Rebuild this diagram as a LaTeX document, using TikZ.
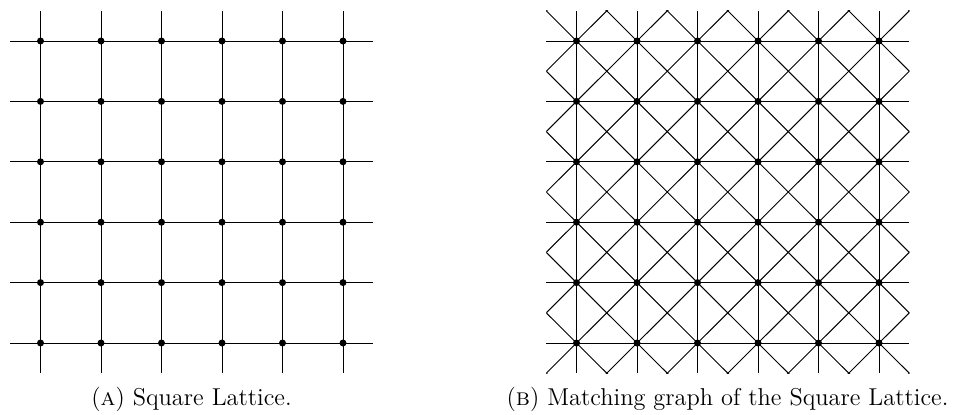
\documentclass[tikz,border=0pt]{standalone}
\tikzset{
  edge/.style={line width=0.5pt, black},
  vtx/.style={circle, fill=black, inner sep=0pt, minimum size=3.5pt},
  captext/.style={anchor=base, inner sep=0pt, font=\fontsize{12.2}{14}\selectfont}
}
\begin{document}
\begin{tikzpicture}[x=0.5pt,y=-0.5pt]
\useasboundingbox (0,0) rectangle (956,414);
% (A) square lattice
\begin{scope}[shift={(40.5,41)}, x=30.25pt, y=-30.2pt]
  \foreach \i in {0,...,5} {
    \coordinate (at\i) at (\i,-0.5);
    \coordinate (ab\i) at (\i,5.5);
    \coordinate (al\i) at (-0.5,\i);
    \coordinate (ar\i) at (5.5,\i);
    \draw[edge] (at\i) -- (ab\i);
    \draw[edge] (al\i) -- (ar\i);
  }
  \foreach \i in {0,...,5}
    \foreach \j in {0,...,5}
      \node[vtx] (a\i\j) at (\i,\j) {};
\end{scope}
\node[captext] (capA) at (191.5,405) {(\textsc{a}) Square Lattice.};
% (B) matching graph
\begin{scope}[shift={(576.5,41)}, x=30.25pt, y=-30.2pt]
  \foreach \i in {0,...,5} {
    \coordinate (bt\i) at (\i,-0.5);
    \coordinate (bb\i) at (\i,5.5);
    \coordinate (bl\i) at (-0.5,\i);
    \coordinate (br\i) at (5.5,\i);
    \draw[edge] (bt\i) -- (bb\i);
    \draw[edge] (bl\i) -- (br\i);
  }
  \begin{scope}
    \clip (-0.5,-0.5) rectangle (5.5,5.5);
    \foreach \k in {-6,...,6}
      \draw[edge] (\k-1,-1) -- (\k+7,7);
    \foreach \k in {-1,...,11}
      \draw[edge] (\k+1,-1) -- (\k-7,7);
  \end{scope}
  \foreach \i in {0,...,5}
    \foreach \j in {0,...,5}
      \node[vtx] (b\i\j) at (\i,\j) {};
\end{scope}
\node[captext] (capB) at (727.5,405) {(\textsc{b}) Matching graph of the Square Lattice.};
\end{tikzpicture}
\end{document}
